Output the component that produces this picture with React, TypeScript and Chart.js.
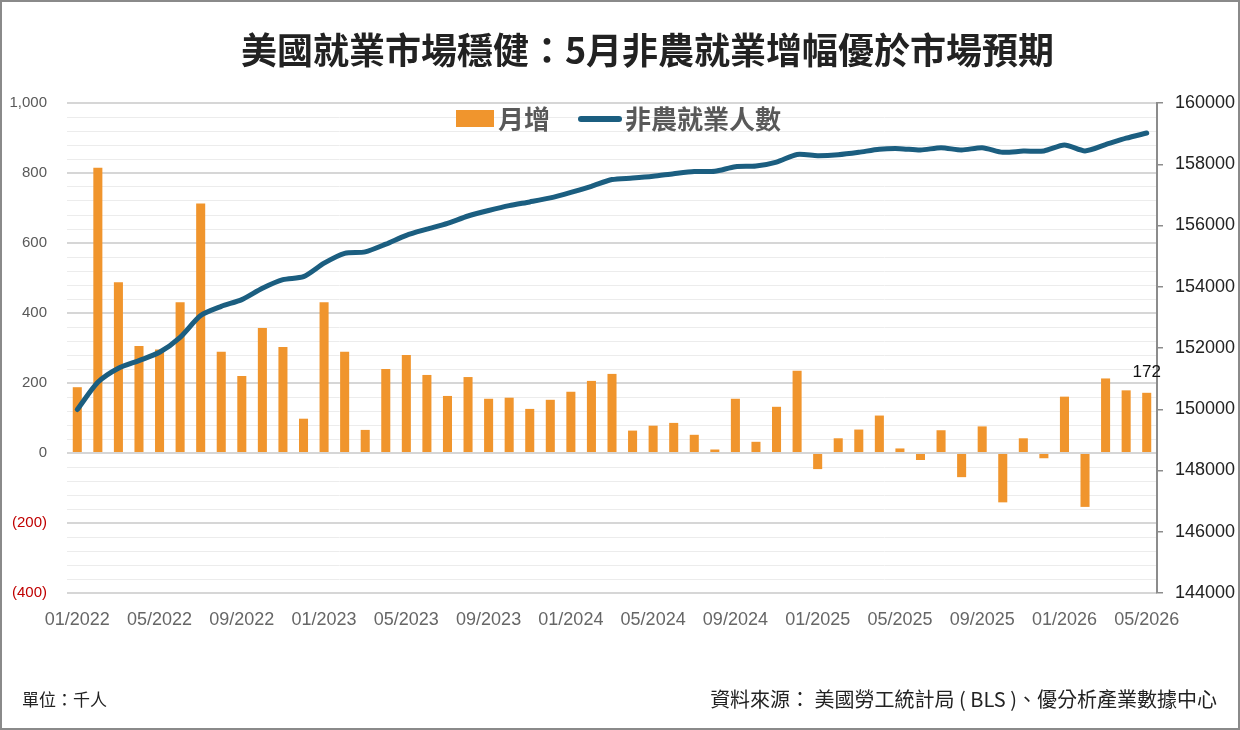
import React, { useEffect, useRef } from "react";
import { Chart, registerables } from "chart.js";

Chart.register(...registerables);

const months: string[] = [
  "01/2022","02/2022","03/2022","04/2022","05/2022","06/2022","07/2022","08/2022","09/2022","10/2022","11/2022","12/2022",
  "01/2023","02/2023","03/2023","04/2023","05/2023","06/2023","07/2023","08/2023","09/2023","10/2023","11/2023","12/2023",
  "01/2024","02/2024","03/2024","04/2024","05/2024","06/2024","07/2024","08/2024","09/2024","10/2024","11/2024","12/2024",
  "01/2025","02/2025","03/2025","04/2025","05/2025","06/2025","07/2025","08/2025","09/2025","10/2025","11/2025","12/2025",
  "01/2026","02/2026","03/2026","04/2026","05/2026",
];

const monthlyChange: number[] = [
  188, 815, 488, 306, 296, 431, 713, 289, 220, 357, 303, 98,
  431, 289, 66, 240, 280, 223, 163, 217, 155, 158, 126, 152,
  175, 206, 226, 64, 78, 86, 52, 10, 155, 32, 132, 235,
  -46, 42, 67, 107, 13, -20, 65, -69, 76, -141, 42, -15,
  161, -154, 213, 179, 172,
];

const nonfarmPayrolls: number[] = [
  149990, 150880, 151340, 151590, 151860, 152350, 153060, 153360, 153580, 153950, 154230, 154330,
  154770, 155090, 155140, 155390, 155680, 155880, 156070, 156310, 156490, 156650, 156770, 156900,
  157080, 157280, 157500, 157550, 157610, 157690, 157760, 157770, 157920, 157940, 158070, 158320,
  158280, 158310, 158390, 158490, 158510, 158465, 158540, 158465, 158540, 158390, 158430, 158435,
  158630, 158435, 158640, 158850, 159020,
];

const leftTicks = { min: -400, max: 1000, step: 40, major: 200 };
const rightTicks = { min: 144000, max: 160000, step: 2000 };

const seriesNames = { bar: "月增", line: "非農就業人數" };
const titleText = "美國就業市場穩健：5月非農就業增幅優於市場預期";
const unitText = "單位：千人";
const sourceText = "資料來源： 美國勞工統計局 ( BLS )、優分析產業數據中心";

const BAR_COLOR = "#F0952D";
const LINE_COLOR = "#1B5E80";
const CJK = '"Noto Sans CJK TC", "Noto Sans", sans-serif';
const NUM = '"Liberation Sans", Arial, sans-serif';

const lastLabelPlugin = {
  id: "lastLabel",
  afterDatasetsDraw(chart: any) {
    const meta = chart.getDatasetMeta(0);
    const idx = monthlyChange.length - 1;
    const el = meta.data[idx];
    if (!el) return;
    const ctx = chart.ctx;
    ctx.save();
    ctx.font = `17px ${NUM}`;
    ctx.fillStyle = "#111";
    ctx.textAlign = "center";
    ctx.textBaseline = "bottom";
    ctx.fillText(String(monthlyChange[idx]), el.x, el.y - 12);
    ctx.restore();
  },
};

export default function App() {
  const canvasRef = useRef<HTMLCanvasElement | null>(null);

  useEffect(() => {
    if (!canvasRef.current) return;
    const chart = new Chart(canvasRef.current, {
      type: "bar",
      data: {
        labels: months,
        datasets: [
          {
            type: "bar",
            label: seriesNames.bar,
            data: monthlyChange,
            backgroundColor: BAR_COLOR,
            yAxisID: "y",
            barPercentage: 0.44,
            categoryPercentage: 1,
            order: 2,
          },
          {
            type: "line",
            label: seriesNames.line,
            data: nonfarmPayrolls,
            borderColor: LINE_COLOR,
            backgroundColor: LINE_COLOR,
            borderWidth: 5,
            pointRadius: 0,
            tension: 0.25,
            borderCapStyle: "round",
            borderJoinStyle: "round",
            yAxisID: "y1",
            order: 1,
          } as any,
        ],
      },
      options: {
        responsive: false,
        animation: false,
        layout: { padding: { top: 103, left: 0, right: 0, bottom: 0 } },
        plugins: {
          legend: { display: false },
          title: { display: false },
          tooltip: { enabled: false },
        },
        scales: {
          x: {
            grid: { display: false, drawTicks: false },
            border: { display: false },
            ticks: {
              autoSkip: false,
              maxRotation: 0,
              minRotation: 0,
              padding: 16,
              color: "#666",
              font: { family: NUM, size: 18 },
              callback: (_v: any, i: number) => (i % 4 === 0 ? months[i] : ""),
            },
            afterFit: (s: any) => {
              s.height = 137;
            },
          },
          y: {
            position: "left",
            min: leftTicks.min,
            max: leftTicks.max,
            border: { display: false },
            grid: {
              drawTicks: false,
              color: (c: any) =>
                c.tick && c.tick.value % leftTicks.major === 0 ? "#d6d6d6" : "#ececec",
              lineWidth: (c: any) =>
                c.tick && c.tick.value % leftTicks.major === 0 ? 2 : 1,
            },
            ticks: {
              stepSize: leftTicks.step,
              autoSkip: false,
              padding: 20,
              font: { family: NUM, size: 15 },
              color: (c: any) => (c.tick && c.tick.value < 0 ? "#C00000" : "#595959"),
              callback: (v: any) => {
                const n = Number(v);
                if (n % leftTicks.major !== 0) return "";
                if (n < 0) return `(${Math.abs(n)})`;
                return n.toLocaleString("en-US");
              },
            },
            afterFit: (s: any) => {
              s.width = 67;
            },
          },
          y1: {
            position: "right",
            min: rightTicks.min,
            max: rightTicks.max,
            border: { display: true, color: "#8c8c8c", width: 2 },
            grid: {
              drawOnChartArea: false,
              drawTicks: true,
              tickLength: 6,
              color: "#8c8c8c",
              lineWidth: 1.5,
            },
            ticks: {
              stepSize: rightTicks.step,
              padding: 12,
              color: "#222",
              font: { family: NUM, size: 18 },
              callback: (v: any) => String(v),
            },
            afterFit: (s: any) => {
              s.width = 83;
            },
          },
        },
      },
      plugins: [lastLabelPlugin],
    });
    return () => chart.destroy();
  }, []);

  return (
    <div
      style={{
        position: "absolute",
        left: 0,
        top: 0,
        width: 1240,
        height: 730,
        background: "#fff",
        overflow: "hidden",
      }}
    >
      <canvas ref={canvasRef} width={1240} height={730} style={{ position: "absolute", left: 0, top: 0 }} />
      <div
        style={{
          position: "absolute",
          left: 647.5,
          top: 30,
          transform: "translateX(-50%)",
          whiteSpace: "nowrap",
          fontFamily: CJK,
          fontWeight: 700,
          fontSize: 36,
          lineHeight: "36px",
          color: "#222",
        }}
      >
        {titleText}
      </div>
      {/* legend */}
      <div style={{ position: "absolute", left: 456, top: 110, width: 38, height: 17, background: BAR_COLOR }} />
      <div
        style={{
          position: "absolute",
          left: 498,
          top: 104,
          fontFamily: CJK,
          fontWeight: 700,
          fontSize: 26,
          lineHeight: "28px",
          color: "#595959",
          whiteSpace: "nowrap",
        }}
      >
        {seriesNames.bar}
      </div>
      <div
        style={{
          position: "absolute",
          left: 578,
          top: 116,
          width: 44,
          height: 6,
          borderRadius: 3,
          background: LINE_COLOR,
        }}
      />
      <div
        style={{
          position: "absolute",
          left: 625,
          top: 104,
          fontFamily: CJK,
          fontWeight: 700,
          fontSize: 26,
          lineHeight: "28px",
          color: "#595959",
          whiteSpace: "nowrap",
        }}
      >
        {seriesNames.line}
      </div>
      {/* footer */}
      <div
        style={{
          position: "absolute",
          left: 22,
          top: 689,
          fontFamily: CJK,
          fontSize: 17,
          lineHeight: "20px",
          color: "#222",
          whiteSpace: "nowrap",
        }}
      >
        {unitText}
      </div>
      <div
        style={{
          position: "absolute",
          right: 1240 - 1217,
          top: 688,
          fontFamily: CJK,
          fontSize: 20,
          lineHeight: "22px",
          color: "#222",
          whiteSpace: "nowrap",
        }}
      >
        {sourceText}
      </div>
      <div
        style={{
          position: "absolute",
          left: 0,
          top: 0,
          width: 1240,
          height: 730,
          boxSizing: "border-box",
          border: "2px solid #8a8a8a",
          pointerEvents: "none",
        }}
      />
    </div>
  );
}
